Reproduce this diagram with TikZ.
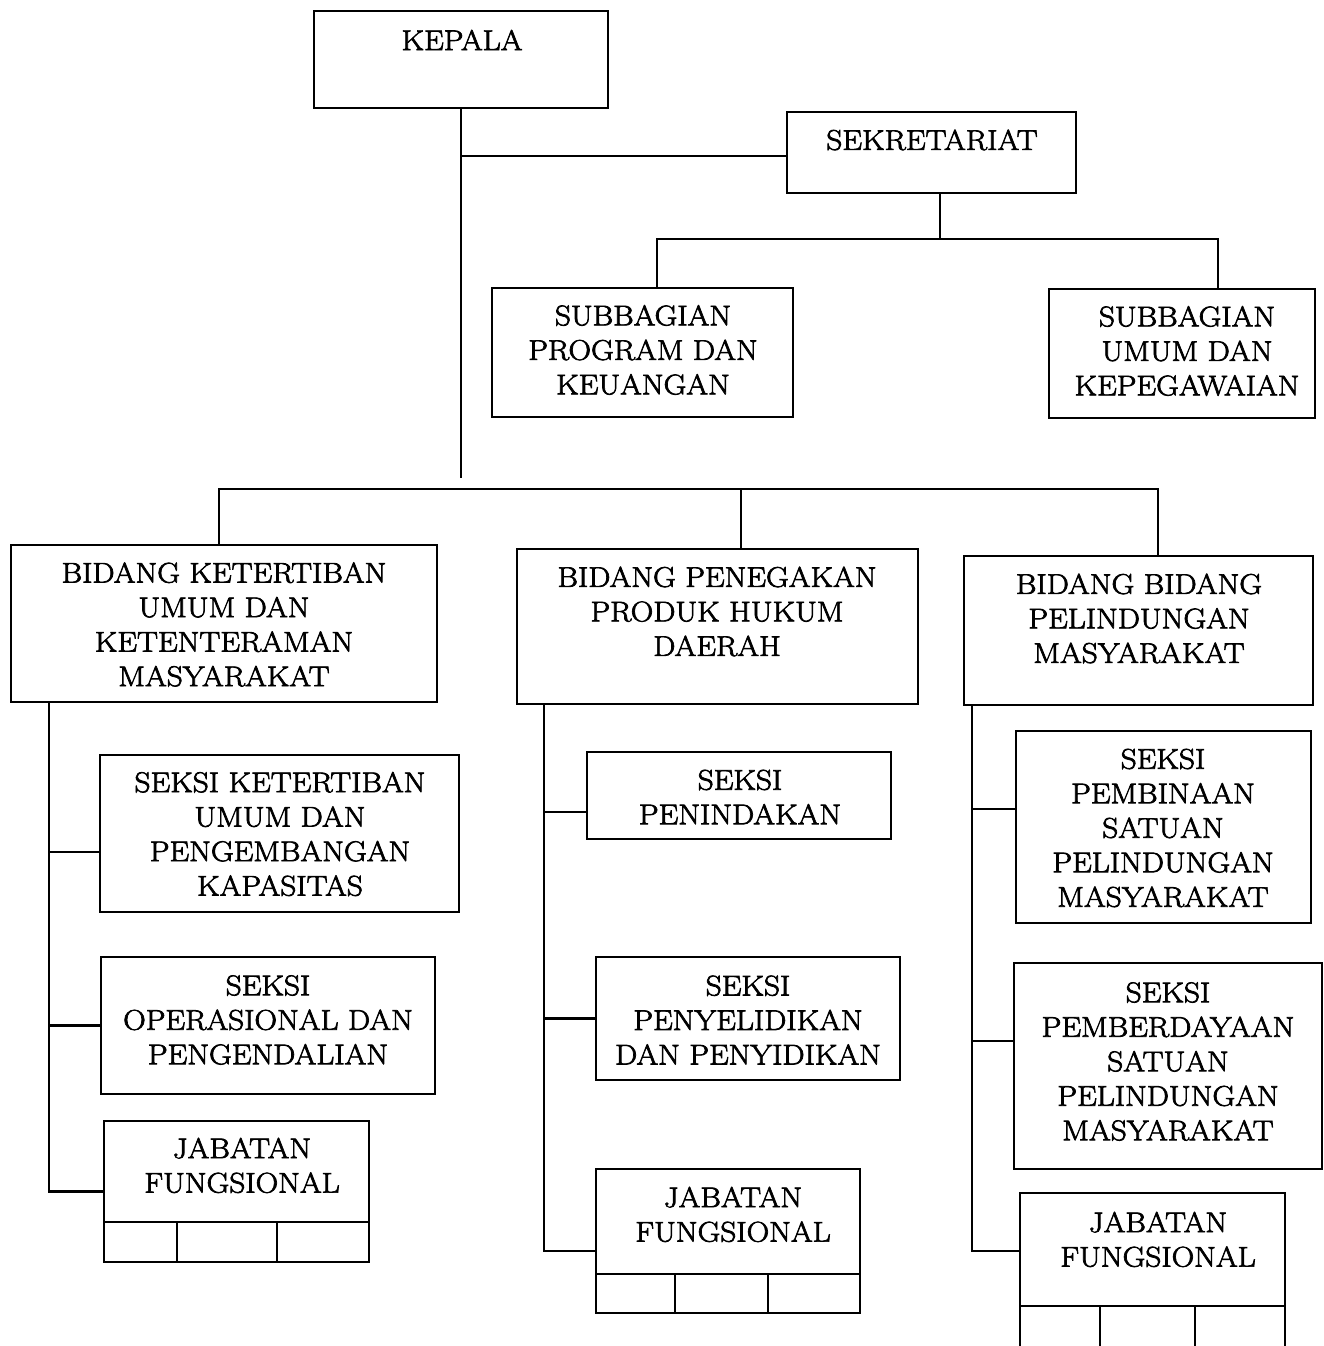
\documentclass[tikz,border=0pt]{standalone}
\usepackage{fontspec}
\newfontfamily\orgfont{Latin Modern Roman}[FakeStretch=1.1,FakeBold=2.5]
\begin{document}
\begin{tikzpicture}[x=1pt,y=-1pt,
  bx/.style={draw,line width=2.4pt,rectangle,inner sep=0pt},
  txt/.style={align=center,inner sep=0pt,font=\orgfont\fontsize{28.5}{34.5}\selectfont},
  ln/.style={line width=2.4pt}]
\useasboundingbox (0,0) rectangle (1323,1346);
\clip (0,0) rectangle (1323,1346);
% boxes
\node[bx,minimum width=294pt,minimum height=97pt] (kepala) at (461,59.5) {};
\node[txt] (kepalat) at (462,40) {KEPALA};
\node[bx,minimum width=289pt,minimum height=81pt] (sekre) at (931.5,152.5) {};
\node[txt] (sekret) at (932,140) {SEKRETARIAT};
\node[bx,minimum width=301pt,minimum height=129pt] (sub1) at (642.5,352.5) {};
\node[txt] (sub1t) at (643,350) {SUBBAGIAN\\PROGRAM DAN\\KEUANGAN};
\node[bx,minimum width=266pt,minimum height=129pt] (sub2) at (1182,353.5) {};
\node[txt] (sub2t) at (1187,351) {SUBBAGIAN\\UMUM DAN\\KEPEGAWAIAN};
\node[bx,minimum width=426pt,minimum height=157pt] (bid1) at (224,623.5) {};
\node[txt] (bid1t) at (224,624.5) {BIDANG KETERTIBAN\\UMUM DAN\\KETENTERAMAN\\MASYARAKAT};
\node[bx,minimum width=401pt,minimum height=155pt] (bid2) at (717.5,626.5) {};
\node[txt] (bid2t) at (717,611.5) {BIDANG PENEGAKAN\\PRODUK HUKUM\\DAERAH};
\node[bx,minimum width=349pt,minimum height=149pt] (bid3) at (1138.5,630.5) {};
\node[txt] (bid3t) at (1139,618.5) {BIDANG BIDANG\\PELINDUNGAN\\MASYARAKAT};
\node[bx,minimum width=359pt,minimum height=157pt] (s11) at (279.5,833.5) {};
\node[txt] (s11t) at (280,834) {SEKSI KETERTIBAN\\UMUM DAN\\PENGEMBANGAN\\KAPASITAS};
\node[bx,minimum width=334pt,minimum height=137pt] (s12) at (268,1025.5) {};
\node[txt] (s12t) at (268,1020) {SEKSI\\OPERASIONAL DAN\\PENGENDALIAN};
\node[bx,minimum width=265pt,minimum height=141pt] (jf1) at (236.5,1191.5) {};
\node[txt] (jf1t) at (242,1165.5) {JABATAN\\FUNGSIONAL};
\node[bx,minimum width=304pt,minimum height=87pt] (s21) at (739,795.5) {};
\node[txt] (s21t) at (740,797) {SEKSI\\PENINDAKAN};
\node[bx,minimum width=304pt,minimum height=123pt] (s22) at (748,1018.5) {};
\node[txt] (s22t) at (748,1020) {SEKSI\\PENYELIDIKAN\\DAN PENYIDIKAN};
\node[bx,minimum width=264pt,minimum height=144pt] (jf2) at (728,1241) {};
\node[txt] (jf2t) at (733,1214.5) {JABATAN\\FUNGSIONAL};
\node[bx,minimum width=295pt,minimum height=192pt] (s31) at (1163.5,827) {};
\node[txt] (s31t) at (1163,828) {SEKSI\\PEMBINAAN\\SATUAN\\PELINDUNGAN\\MASYARAKAT};
\node[bx,minimum width=308pt,minimum height=206pt] (s32) at (1168,1066) {};
\node[txt] (s32t) at (1168,1061.5) {SEKSI\\PEMBERDAYAAN\\SATUAN\\PELINDUNGAN\\MASYARAKAT};
\node[bx,minimum width=265pt,minimum height=187pt] (jf3) at (1152.5,1286.5) {};
\node[txt] (jf3t) at (1158,1239.5) {JABATAN\\FUNGSIONAL};
% cells of jabatan fungsional boxes
\draw[ln] (104,1222) -- (369,1222) (177,1222) -- (177,1262) (277,1222) -- (277,1262);
\draw[ln] (596,1274) -- (860,1274) (675,1274) -- (675,1313) (768,1274) -- (768,1313);
\draw[ln] (1020,1306) -- (1285,1306) (1100,1306) -- (1100,1346) (1195,1306) -- (1195,1346);
% top connectors
\coordinate (kend) at (461,478);
\draw[ln] (kepala.south) -- (kend);
\draw[ln] ([yshift=-3.5pt]sekre.west) -- ([yshift=-3.5pt]sekre.west -| kepala.south);
\draw[ln] ([xshift=8.5pt]sekre.south) -- ++(0,45) coordinate (sbus);
\draw[ln] ([xshift=14.5pt]sub1.north) |- (sbus) -| ([xshift=36pt]sub2.north);
% bidang bus
\coordinate (bbus) at (741,489);
\draw[ln] ([xshift=-5pt]bid1.north) |- (bbus) -| ([xshift=19.5pt]bid3.north);
\draw[ln] ([xshift=23.5pt]bid2.north) -- (bbus);
% left column
\coordinate (sp1) at ([xshift=-175pt]bid1.south);
\draw[ln] (sp1) |- (jf1.west);
\draw[ln] ([yshift=-18.5pt]s11.west) -- ([yshift=-18.5pt]s11.west -| sp1);
\draw[ln] (s12.west) -- (s12.west -| sp1);
% middle column
\coordinate (sp2) at ([xshift=-173.5pt]bid2.south);
\draw[ln] (sp2) |- ([yshift=-10pt]jf2.west);
\draw[ln] ([yshift=-16.5pt]s21.west) -- ([yshift=-16.5pt]s21.west -| sp2);
\draw[ln] (s22.west) -- (s22.west -| sp2);
% right column
\coordinate (sp3) at ([xshift=-166.5pt]bid3.south);
\draw[ln] (sp3) |- ([yshift=-59pt]jf3.north west);
\draw[ln] ([yshift=18pt]s31.west) -- ([yshift=18pt]s31.west -| sp3);
\draw[ln] ([yshift=25pt]s32.west) -- ([yshift=25pt]s32.west -| sp3);
\end{tikzpicture}
\end{document}
